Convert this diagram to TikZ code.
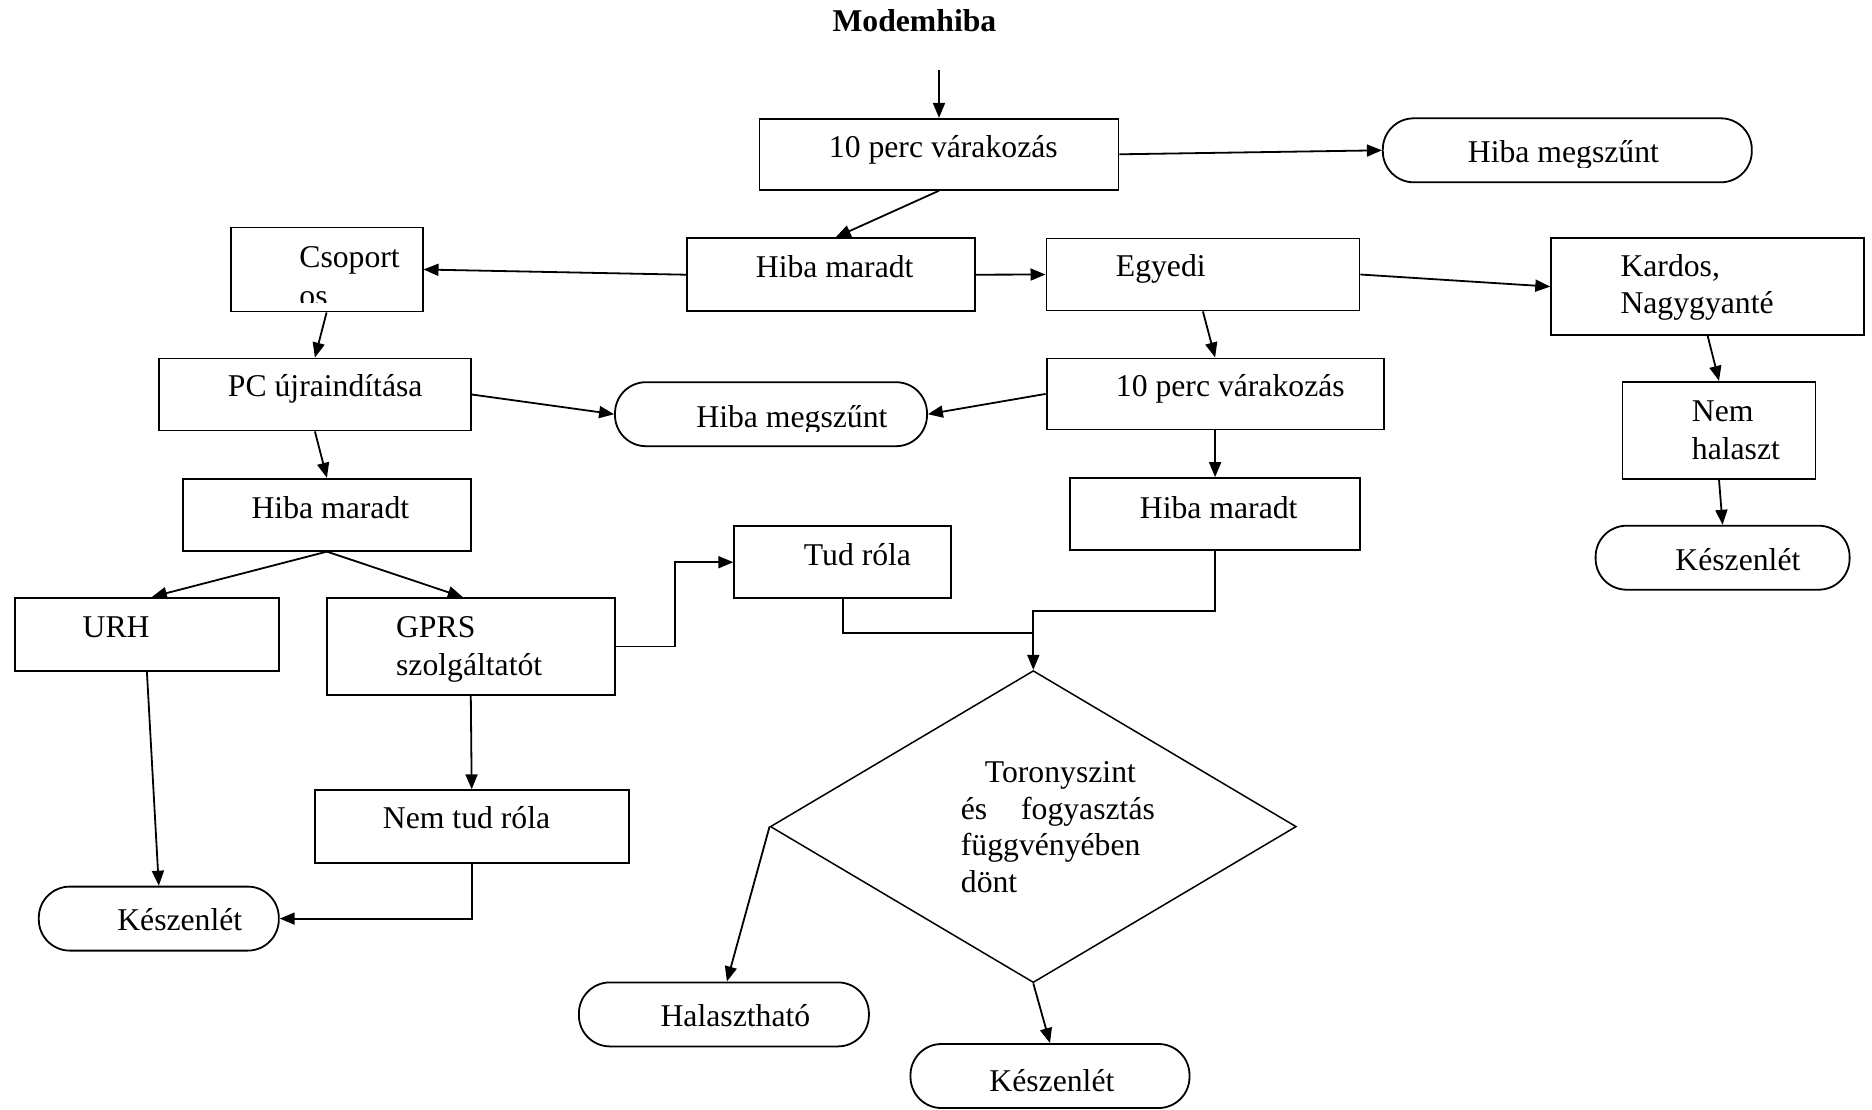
\documentclass[tikz,border=0pt]{standalone}
\usepackage{fontspec}
\setmainfont{Liberation Serif}
\usetikzlibrary{arrows.meta}
\usetikzlibrary{shapes.geometric}

\begin{document}
\begin{tikzpicture}[x=1pt, y=-1pt, line width=1.8pt,
        every node/.style={font=\fontsize{31.7}{36.6}\selectfont},
        box/.style={draw, rectangle, inner sep=0, line width=1.8pt},
        term/.style={draw, rectangle, rounded corners=31pt, inner sep=0, line width=1.8pt, minimum height=64pt},
        txt/.style={anchor=base west, inner sep=0},
        >={Triangle[length=15pt,width=12pt]}]
        \useasboundingbox (0,0) rectangle (1872,1109);
        % title
        \node[txt, font=\bfseries\fontsize{31.7}{36.6}\selectfont] (title) at (831.6,31) {Modemhiba};
        \coordinate (in) at (939,70);
        % boxes
        \node[box, minimum width=359pt, minimum height=71pt] (wait1) at (939,154.3) {};
        \node[box, minimum width=288pt, minimum height=73pt] (remain1) at (830.7,274.7) {};
        \node[box, minimum width=192pt, minimum height=84pt] (group) at (326.6,269.5) {};
        \node[box, minimum width=313pt, minimum height=72pt] (single) at (1202.9,274.5) {};
        \node[box, minimum width=313pt, minimum height=97pt] (kardos) at (1707.7,286.6) {};
        \node[box, minimum width=312pt, minimum height=72pt] (restart) at (314.9,394.5) {};
        \node[box, minimum width=337pt, minimum height=71pt] (wait2) at (1215.1,393.9) {};
        \node[box, minimum width=193pt, minimum height=97pt] (nohal) at (1719,430.3) {};
        \node[box, minimum width=288pt, minimum height=72pt] (remain2) at (326.9,514.7) {};
        \node[box, minimum width=290pt, minimum height=72pt] (remain3) at (1215.1,514) {};
        \node[box, minimum width=217pt, minimum height=72pt] (knows) at (842.7,562.2) {};
        \node[box, minimum width=264pt, minimum height=73pt] (urh) at (146.9,634.3) {};
        \node[box, minimum width=288pt, minimum height=97pt] (gprs) at (470.8,646.5) {};
        \node[box, minimum width=314pt, minimum height=73pt] (noknow) at (471.7,826.7) {};
        \node[draw, diamond, inner sep=0, minimum width=526pt, minimum height=312pt, line width=1.5pt] (decide) at (1033.3,826.6) {};
        % terminals
        \node[term, minimum width=369pt] (gone1) at (1567.3,150.3) {};
        \node[term, minimum width=312pt] (gone2) at (771,414.2) {};
        \node[term, minimum width=254pt] (ready1) at (1722.6,557.7) {};
        \node[term, minimum width=240pt] (ready2) at (158.8,918.6) {};
        \node[term, minimum width=290pt] (delay) at (723.9,1014.4) {};
        \node[term, minimum width=279pt] (ready3) at (1050,1076) {};
        % texts
        \node[txt] (wait1-t) at (828,157) {10 perc várakozás};
        \begin{scope}
            \clip (1390,120) rectangle (1745,167);
            \node[txt] (gone1-t) at (1467,162.5) {Hiba megszűnt};
        \end{scope}
        \node[txt] (remain1-t) at (755,277.9) {Hiba maradt};
        \begin{scope}
            \clip (232,229) rectangle (421,302);
            \node[txt] (group-t1) at (298.5,267) {Csoport};
            \node[txt] (group-t2) at (298.5,306) {os};
        \end{scope}
        \node[txt] (single-t) at (1115,276.8) {Egyedi};
        \node[txt] (kardos-t1) at (1619.6,276.8) {Kardos,};
        \node[txt] (kardos-t2) at (1619.6,313.6) {Nagygyanté};
        \node[txt] (restart-t) at (227,396) {PC újraindítása};
        \begin{scope}
            \clip (620,384) rectangle (920,431);
            \node[txt] (gone2-t) at (695.5,427) {Hiba megszűnt};
        \end{scope}
        \node[txt] (wait2-t) at (1115,396.4) {10 perc várakozás};
        \node[txt] (nohal-t1) at (1691,421.4) {Nem};
        \node[txt] (nohal-t2) at (1691,459) {halaszt};
        \node[txt] (ready1-t) at (1674.5,570.8) {Készenlét};
        \node[txt] (remain2-t) at (250.7,518) {Hiba maradt};
        \node[txt] (remain3-t) at (1139,518) {Hiba maradt};
        \node[txt] (knows-t) at (803,565.4) {Tud róla};
        \node[txt] (urh-t) at (81.8,637) {URH};
        \node[txt] (gprs-t1) at (395.2,637.2) {GPRS};
        \node[txt] (gprs-t2) at (395.2,675) {szolgáltatót};
        \node[txt] (noknow-t) at (382,828.5) {Nem tud róla};
        \node[txt] (decide-t1) at (984,782.4) {Toronyszint};
        \node[txt] (decide-t2) at (960,819.4) {\makebox[194pt][s]{és\hfill fogyasztás}};
        \node[txt] (decide-t3) at (960,855.7) {függvényében};
        \node[txt] (decide-t4) at (960,892) {dönt};
        \node[txt] (ready2-t) at (116.4,930) {Készenlét};
        \node[txt] (delay-t) at (659.7,1026) {Halasztható};
        \node[txt] (ready3-t) at (988.5,1091.5) {Készenlét};
        % connectors
        \draw[->] (in) -- (wait1.north);
        \draw[->] (wait1.east) -- (gone1.west);
        \draw[->] (wait1.south) -- ([xshift=5pt]remain1.north);
        \draw[->] (remain1.west) -- (group.east);
        \draw[->] (remain1.east) -- (single.west);
        \draw[->] (single.east) -- (kardos.west);
        \draw[->] (group.south) -- (restart.north);
        \draw[->] (single.south) -- (wait2.north);
        \draw[->] (kardos.south) -- (nohal.north);
        \draw[->] (restart.east) -- (gone2.west);
        \draw[->] (wait2.west) -- (gone2.east);
        \draw[->] (nohal.south) -- (ready1.north);
        \draw[->] (restart.south) -- (remain2.north);
        \draw[->] (wait2.south) -- (remain3.north);
        \draw[->] (remain2.south) -- ([xshift=5pt]urh.north);
        \draw[->] (remain2.south) -- ([xshift=-8pt]gprs.north);
        \draw[->] (gprs.east) -- ++(59.6,0) |- (knows.west);
        \draw (knows.south) |- ([yshift=36.6pt]decide.north);
        \draw[->] (remain3.south) -- ++(0,59.7) -| (decide.north);
        \draw[->] (urh.south) -- (ready2.north);
        \draw[->] (gprs.south) -- (noknow.north);
        \draw[->] (noknow.south) |- (ready2.east);
        \draw[->] (decide.west) -- ([xshift=3pt]delay.north);
        \draw[->] (decide.south) -- (ready3.north);
\end{tikzpicture}
\end{document}
